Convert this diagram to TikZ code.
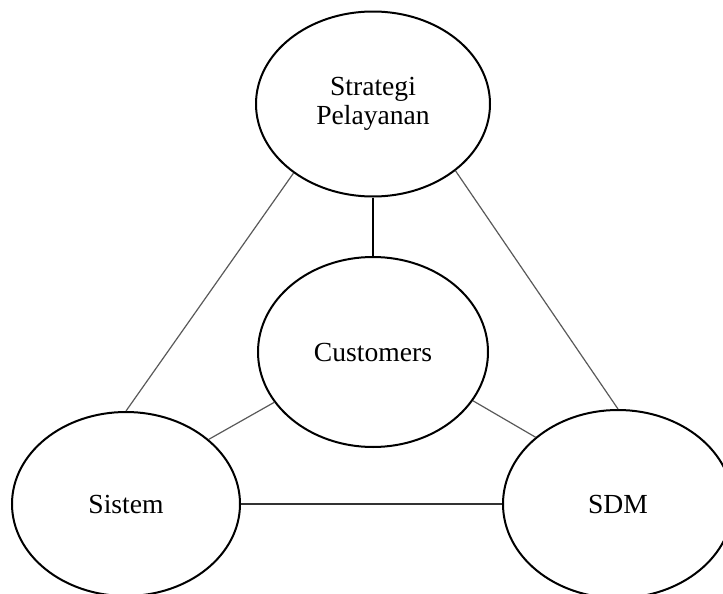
\documentclass[tikz,border=0pt]{standalone}
\usepackage{fontspec}
\setmainfont{Liberation Serif}
\usetikzlibrary{shapes.geometric}

\begin{document}
\begin{tikzpicture}[x=0.5pt,y=-0.5pt,
    elip/.style={draw,ellipse,line width=1pt,inner sep=0pt,align=center,
      font=\fontsize{13.8}{14.8}\selectfont},
    garis/.style={draw=black!65,line width=0.6pt}]
    \clip (0,0) rectangle (723,594);
    \useasboundingbox (0,0) rectangle (723,594);
    \node[elip,minimum width=117pt,minimum height=92.5pt] (strategi) at (373,104) {Strategi\\Pelayanan};
    \node[elip,minimum width=115pt,minimum height=95pt] (cust) at (373,352) {Customers};
    \node[elip,minimum width=114pt,minimum height=92pt] (sistem) at (126,504) {Sistem};
    \node[elip,minimum width=115pt,minimum height=94pt] (sdm) at (618,504) {SDM};
    \draw[garis] (strategi.221) -- (sistem.north);
    \draw[garis] (strategi.321) -- (sdm.north);
    \draw[garis,draw=black,line width=0.7pt] (strategi.south) -- (cust.north);
    \draw[garis] (cust.207) -- (sistem.38);
    \draw[garis] (cust.334) -- (sdm.141);
    \draw[garis,draw=black!80,line width=0.7pt] (sistem.east) -- (sdm.west);
  \end{tikzpicture}
\end{document}
